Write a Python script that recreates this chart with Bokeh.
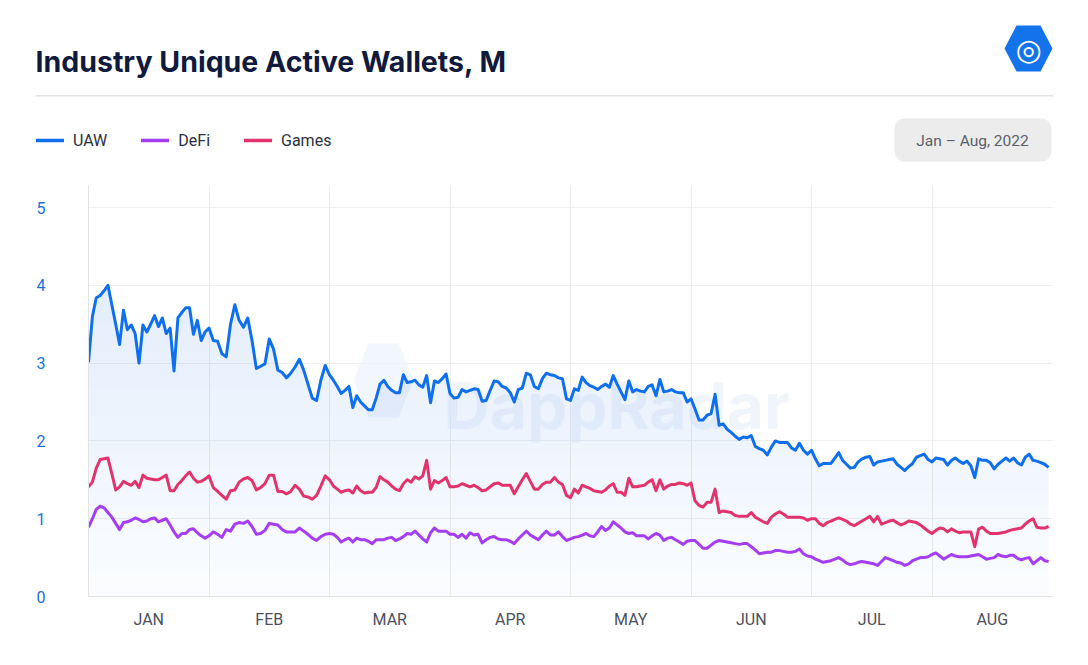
import numpy as np
import pandas as pd
from bokeh.plotting import figure
from bokeh.layouts import column
from bokeh.models import (Range1d, FixedTicker, Label, Legend, LegendItem,
                          PolyAnnotation, BoxAnnotation, ColumnDataSource)
from bokeh.embed import file_html
from bokeh.resources import INLINE

# ---------------- data ----------------
months = ["JAN", "FEB", "MAR", "APR", "MAY", "JUN", "JUL", "AUG"]
y_ticks = [0, 1, 2, 3, 4, 5]
start_date = "2022-01-01"
series_names = ["UAW", "DeFi", "Games"]

uaw = [
    # Jan
    3.01, 3.60, 3.84, 3.87, 3.93, 4.00, 3.75, 3.50, 3.24, 3.68,
    3.43, 3.49, 3.38, 3.00, 3.49, 3.40, 3.50, 3.61, 3.47, 3.58,
    3.38, 3.45, 2.90, 3.58, 3.65, 3.71, 3.71, 3.37, 3.55, 3.29, 3.40,
    # Feb
    3.45, 3.29, 3.28, 3.12, 3.08, 3.50, 3.75, 3.55, 3.46, 3.58,
    3.29, 2.93, 2.96, 2.99, 3.31, 3.18, 2.91, 2.88, 2.81, 2.87,
    2.95, 3.05, 2.91, 2.73, 2.55, 2.52, 2.78, 2.97,
    # Mar
    2.85, 2.78, 2.70, 2.61, 2.65, 2.70, 2.43, 2.58, 2.50, 2.45,
    2.40, 2.40, 2.55, 2.73, 2.78, 2.70, 2.65, 2.62, 2.62, 2.85,
    2.75, 2.76, 2.78, 2.72, 2.69, 2.84, 2.49, 2.77, 2.75, 2.80, 2.86,
    # Apr
    2.61, 2.55, 2.56, 2.66, 2.63, 2.65, 2.67, 2.66, 2.51, 2.52,
    2.65, 2.77, 2.76, 2.70, 2.68, 2.62, 2.50, 2.66, 2.68, 2.87,
    2.85, 2.70, 2.67, 2.80, 2.87, 2.85, 2.84, 2.81, 2.80, 2.54,
    # May
    2.52, 2.67, 2.65, 2.82, 2.75, 2.71, 2.69, 2.66, 2.70, 2.73,
    2.69, 2.84, 2.73, 2.63, 2.53, 2.77, 2.63, 2.66, 2.64, 2.63,
    2.70, 2.72, 2.58, 2.79, 2.63, 2.64, 2.66, 2.63, 2.62, 2.62, 2.50,
    # Jun
    2.54, 2.41, 2.27, 2.27, 2.33, 2.35, 2.60, 2.20, 2.22, 2.15,
    2.11, 2.06, 2.02, 2.05, 2.04, 2.07, 1.93, 1.90, 1.88, 1.82,
    1.92, 2.00, 1.98, 1.98, 1.98, 1.91, 1.88, 1.97, 1.88, 1.83,
    # Jul
    1.88, 1.77, 1.68, 1.71, 1.71, 1.71, 1.78, 1.85, 1.75, 1.70,
    1.65, 1.66, 1.73, 1.77, 1.79, 1.80, 1.69, 1.73, 1.74, 1.75,
    1.76, 1.77, 1.70, 1.66, 1.62, 1.67, 1.71, 1.79, 1.81, 1.83, 1.76,
    # Aug
    1.73, 1.78, 1.77, 1.76, 1.69, 1.75, 1.78, 1.74, 1.71, 1.74,
    1.68, 1.53, 1.77, 1.75, 1.75, 1.72, 1.64, 1.70, 1.74, 1.78,
    1.74, 1.78, 1.72, 1.69, 1.79, 1.83, 1.75, 1.74, 1.72, 1.70, 1.66,
]

games = [
    # Jan
    1.41, 1.47, 1.65, 1.76, 1.77, 1.78, 1.58, 1.37, 1.41, 1.48,
    1.45, 1.43, 1.48, 1.40, 1.56, 1.52, 1.51, 1.50, 1.50, 1.53,
    1.56, 1.36, 1.36, 1.44, 1.49, 1.55, 1.60, 1.52, 1.47, 1.48, 1.51,
    # Feb
    1.55, 1.40, 1.35, 1.30, 1.25, 1.36, 1.37, 1.47, 1.51, 1.53,
    1.49, 1.37, 1.40, 1.45, 1.56, 1.56, 1.35, 1.35, 1.32, 1.35,
    1.43, 1.38, 1.29, 1.28, 1.25, 1.30, 1.42, 1.55,
    # Mar
    1.50, 1.42, 1.38, 1.34, 1.36, 1.37, 1.33, 1.42, 1.36, 1.33,
    1.34, 1.34, 1.40, 1.54, 1.50, 1.47, 1.42, 1.38, 1.36, 1.45,
    1.50, 1.47, 1.54, 1.51, 1.55, 1.75, 1.38, 1.49, 1.46, 1.49, 1.53,
    # Apr
    1.41, 1.41, 1.42, 1.45, 1.43, 1.41, 1.43, 1.40, 1.36, 1.37,
    1.41, 1.45, 1.46, 1.43, 1.43, 1.43, 1.32, 1.41, 1.50, 1.58,
    1.48, 1.38, 1.38, 1.44, 1.47, 1.47, 1.53, 1.47, 1.44, 1.30,
    # May
    1.27, 1.38, 1.33, 1.43, 1.41, 1.39, 1.36, 1.35, 1.34, 1.37,
    1.42, 1.45, 1.34, 1.34, 1.30, 1.52, 1.41, 1.41, 1.42, 1.43,
    1.47, 1.50, 1.36, 1.50, 1.38, 1.42, 1.44, 1.44, 1.46, 1.45, 1.43,
    # Jun
    1.46, 1.23, 1.17, 1.15, 1.21, 1.21, 1.38, 1.08, 1.10, 1.09,
    1.08, 1.04, 1.03, 1.03, 1.03, 1.08, 1.02, 0.99, 0.96, 0.94,
    1.02, 1.06, 1.09, 1.06, 1.02, 1.02, 1.02, 1.02, 1.01, 0.98,
    # Jul
    1.00, 1.00, 0.94, 0.91, 0.95, 0.97, 0.99, 1.01, 0.99, 0.97,
    0.93, 0.91, 0.94, 0.97, 1.00, 1.03, 0.96, 1.03, 0.93, 0.95,
    0.97, 0.98, 0.95, 0.92, 0.94, 0.97, 0.96, 0.95, 0.92, 0.88, 0.84,
    # Aug
    0.81, 0.85, 0.88, 0.87, 0.83, 0.87, 0.84, 0.82, 0.83, 0.83,
    0.83, 0.64, 0.87, 0.89, 0.84, 0.81, 0.81, 0.81, 0.82, 0.83,
    0.85, 0.86, 0.87, 0.88, 0.93, 0.97, 1.00, 0.89, 0.88, 0.88, 0.90,
]

defi = [
    # Jan
    0.89, 1.00, 1.12, 1.16, 1.14, 1.08, 1.02, 0.94, 0.86, 0.95,
    0.96, 0.98, 1.01, 0.99, 0.96, 0.97, 1.00, 1.01, 0.96, 0.98,
    1.00, 0.92, 0.83, 0.76, 0.81, 0.81, 0.86, 0.87, 0.82, 0.78, 0.75,
    # Feb
    0.78, 0.83, 0.80, 0.76, 0.86, 0.84, 0.93, 0.95, 0.94, 0.97,
    0.90, 0.80, 0.81, 0.85, 0.94, 0.93, 0.92, 0.86, 0.83, 0.83,
    0.83, 0.88, 0.84, 0.80, 0.75, 0.72, 0.77, 0.80,
    # Mar
    0.81, 0.80, 0.76, 0.70, 0.73, 0.75, 0.70, 0.75, 0.73, 0.73,
    0.71, 0.68, 0.73, 0.73, 0.73, 0.75, 0.76, 0.72, 0.74, 0.77,
    0.81, 0.80, 0.84, 0.79, 0.74, 0.70, 0.82, 0.88, 0.84, 0.84, 0.84,
    # Apr
    0.80, 0.80, 0.76, 0.80, 0.75, 0.82, 0.79, 0.80, 0.69, 0.73,
    0.76, 0.77, 0.74, 0.73, 0.73, 0.71, 0.68, 0.74, 0.79, 0.84,
    0.79, 0.76, 0.73, 0.79, 0.84, 0.79, 0.79, 0.83, 0.77, 0.72,
    # May
    0.74, 0.76, 0.77, 0.79, 0.81, 0.78, 0.77, 0.83, 0.90, 0.85,
    0.88, 0.96, 0.92, 0.88, 0.83, 0.81, 0.82, 0.78, 0.78, 0.78,
    0.74, 0.78, 0.81, 0.79, 0.72, 0.75, 0.76, 0.73, 0.70, 0.67, 0.71,
    # Jun
    0.72, 0.72, 0.67, 0.62, 0.62, 0.66, 0.70, 0.72, 0.71, 0.70,
    0.69, 0.68, 0.67, 0.68, 0.68, 0.64, 0.60, 0.55, 0.56, 0.57,
    0.57, 0.59, 0.59, 0.58, 0.57, 0.57, 0.58, 0.61, 0.55, 0.52,
    # Jul
    0.51, 0.48, 0.46, 0.44, 0.45, 0.46, 0.48, 0.50, 0.47, 0.43,
    0.41, 0.42, 0.44, 0.45, 0.44, 0.43, 0.42, 0.40, 0.45, 0.50,
    0.48, 0.46, 0.44, 0.43, 0.40, 0.42, 0.46, 0.48, 0.50, 0.50, 0.51,
    # Aug
    0.54, 0.56, 0.52, 0.48, 0.51, 0.54, 0.52, 0.51, 0.51, 0.51,
    0.52, 0.53, 0.54, 0.51, 0.48, 0.49, 0.50, 0.54, 0.52, 0.51,
    0.53, 0.53, 0.49, 0.47, 0.49, 0.50, 0.42, 0.46, 0.50, 0.46, 0.45,
]

# ---------------- styling ----------------
C_UAW = "#0f6fec"
C_DEFI = "#a53df0"
C_GAMES = "#e1346c"
FONT = "Roboto"
TITLE_FONT = "Inter"

W = 1072            # total width
HDR_H = 178         # header strip height
CH_H = 649 - HDR_H  # chart figure height

n = min(len(uaw), len(defi), len(games))
dates = pd.date_range(start_date, periods=n, freq="D")
# each month takes one equal band on the axis
xpos = np.asarray((dates.month - 1) + (dates.day - 1) / dates.days_in_month, dtype=float)
uaw_a = np.asarray(uaw[:n], dtype=float)

src = ColumnDataSource(dict(x=xpos, uaw=uaw_a, defi=defi[:n], games=games[:n]))

# ================= header figure (title, legend, badge, logo) =================
hdr = figure(width=W, height=HDR_H, output_backend="svg", toolbar_location=None,
             x_range=Range1d(0, W), y_range=Range1d(HDR_H, 0),
             x_axis_type=None, y_axis_type=None, min_border=0)
hdr.frame_align = False
hdr.outline_line_color = None
hdr.grid.visible = False
hdr.background_fill_color = "white"
hdr.border_fill_color = "white"

hdr.add_layout(Label(x=35, y=61, text="Industry Unique Active Wallets, M",
                     text_font=TITLE_FONT, text_font_style="bold",
                     text_font_size="28.5px", text_color="#101a3c",
                     text_baseline="alphabetic"))

hdr.add_layout(PolyAnnotation(xs=[35, 1053, 1053, 35], ys=[94.5, 94.5, 96, 96],
                              fill_color="#e4e4e4", fill_alpha=1, line_color=None))

hdr.add_layout(BoxAnnotation(left=894, right=1051, top=118, bottom=161,
                             fill_color="#ececec", fill_alpha=1, line_color=None,
                             border_radius=10))
hdr.add_layout(Label(x=972, y=140, text="Jan \u2013 Aug, 2022", text_font=FONT,
                     text_font_size="15.5px", text_color="#5a5f6a",
                     text_align="center", text_baseline="middle"))

hdr.add_layout(PolyAnnotation(xs=[1004, 1016, 1040, 1052, 1040, 1016],
                              ys=[48, 25, 25, 48, 71, 71],
                              fill_color="#1273eb", fill_alpha=1, line_color=None))
hdr.add_layout(Label(x=1028, y=49, text="\u25CE", text_font="DejaVu Sans",
                     text_font_size="30px", text_color="white",
                     text_align="center", text_baseline="middle"))

# legend swatches (renderers with no visible point carry only the style)
sw = [hdr.line(x=[np.nan], y=[np.nan], line_color=c, line_width=3.5,
               line_cap="round")
      for c in (C_UAW, C_DEFI, C_GAMES)]
legend = Legend(items=[LegendItem(label=nm, renderers=[r])
                       for nm, r in zip(series_names, sw)],
                orientation="horizontal", location=(36, HDR_H - 150),
                glyph_width=28, glyph_height=20, label_height=20,
                label_standoff=9, spacing=34, padding=0, margin=0,
                border_line_color=None, background_fill_alpha=0,
                label_text_font=FONT, label_text_font_size="16px",
                label_text_color="#2a3040")
hdr.add_layout(legend)

# ================= chart figure =================
FRAME_TOP = 185 - HDR_H
p = figure(width=W, height=CH_H, output_backend="svg", toolbar_location=None,
           x_range=Range1d(0, len(months)), y_range=Range1d(0, 5.283),
           min_border_left=88, min_border_right=20, min_border_top=FRAME_TOP,
           min_border_bottom=649 - 596)
p.frame_align = False
p.outline_line_color = None
p.background_fill_color = "white"
p.border_fill_color = "white"

p.yaxis.ticker = FixedTicker(ticks=y_ticks)
p.yaxis.major_label_text_color = "#1d6fd8"
p.yaxis.major_label_text_font = FONT
p.yaxis.major_label_text_font_size = "16px"
p.yaxis.axis_line_color = "#e2e2e2"
p.yaxis.major_tick_line_color = None
p.yaxis.minor_tick_line_color = None
p.yaxis.major_tick_out = 0
p.yaxis.major_label_standoff = 43

mid = [i + 0.5 for i in range(len(months))]
p.xaxis.ticker = FixedTicker(ticks=mid)
p.xaxis.major_label_overrides = {m: lab for m, lab in zip(mid, months)}
p.xaxis.major_label_text_color = "#4b5060"
p.xaxis.major_label_text_font = FONT
p.xaxis.major_label_text_font_size = "16px"
p.xaxis.axis_line_color = "#e2e2e2"
p.xaxis.major_tick_line_color = None
p.xaxis.minor_tick_line_color = None
p.xaxis.major_tick_out = 0
p.xaxis.major_label_standoff = 13

p.xgrid.ticker = FixedTicker(ticks=list(range(len(months) + 1)))
p.xgrid.grid_line_color = "#ececec"
p.ygrid.ticker = FixedTicker(ticks=y_ticks)
p.ygrid.grid_line_color = "#efefef"

# watermark, in pixels from the frame's bottom-left
def fx(v):
    return v - 88

def fy(v):
    return 596 - v

p.add_layout(PolyAnnotation(xs=[fx(353), fx(368), fx(398), fx(413), fx(398), fx(368)],
                            ys=[fy(380), fy(343), fy(343), fy(380), fy(417), fy(417)],
                            xs_units="screen", ys_units="screen",
                            fill_color="#e9f0fb", fill_alpha=0.6, line_color=None,
                            level="underlay"))
p.add_layout(Label(x=fx(443), y=fy(405), x_units="screen", y_units="screen",
                   text="DappRadar", text_font=TITLE_FONT, text_font_style="bold",
                   text_font_size="64px", text_color="#e6eefa", text_alpha=0.6,
                   text_baseline="alphabetic", level="underlay"))

# gradient area under UAW (stacked horizontal slices)
nsl = 24
levels = np.linspace(0, uaw_a.max(), nsl + 1)
for k in range(nsl):
    lo = np.minimum(uaw_a, levels[k])
    hi = np.minimum(uaw_a, levels[k + 1])
    a = 0.02 + 0.11 * (k / (nsl - 1))
    p.varea(x=xpos, y1=lo, y2=hi, fill_color="#2a78e6", fill_alpha=a)

p.line("x", "defi", source=src, line_color=C_DEFI, line_width=3, line_join="round")
p.line("x", "games", source=src, line_color=C_GAMES, line_width=3, line_join="round")
p.line("x", "uaw", source=src, line_color=C_UAW, line_width=3, line_join="round")

layout = column(hdr, p, spacing=0)
open("out.html", "w").write(file_html(layout, INLINE))
